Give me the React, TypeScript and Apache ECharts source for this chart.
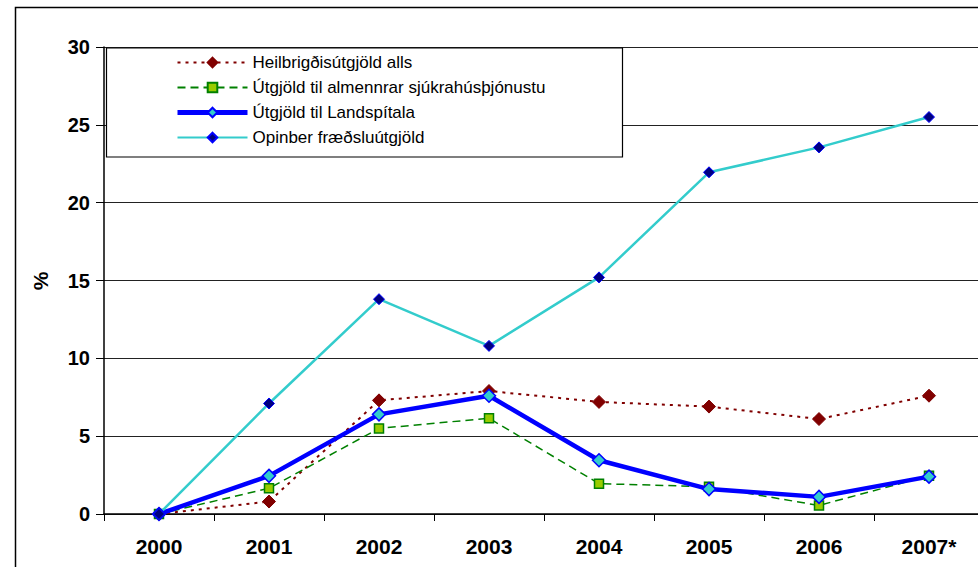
import React, { useEffect, useRef } from "react";
import * as echarts from "echarts";

const categories = ["2000", "2001", "2002", "2003", "2004", "2005", "2006", "2007*"];
const heilbrigdis = [0, 0.8, 7.3, 7.9, 7.2, 6.9, 6.1, 7.6];
const sjukrahus = [0, 1.65, 5.5, 6.15, 1.95, 1.75, 0.55, 2.45];
const landspitali = [0, 2.45, 6.4, 7.6, 3.45, 1.6, 1.1, 2.4];
const fraedslu = [0, 7.1, 13.8, 10.8, 15.2, 21.95, 23.55, 25.5];
const seriesNames = [
  "Heilbrigðisútgjöld alls",
  "Útgjöld til almennrar sjúkrahúsþjónustu",
  "Útgjöld til Landspítala",
  "Opinber fræðsluútgjöld",
];

export default function App() {
  const ref = useRef<HTMLDivElement>(null);
  useEffect(() => {
    if (!ref.current) return;
    const chart = echarts.init(ref.current, null, { renderer: "svg" });
    const font = "Arial, 'Liberation Sans', sans-serif";
    chart.setOption({
      animation: false,
      backgroundColor: "#ffffff",
      textStyle: { fontFamily: font },
      grid: { left: 104, top: 47, width: 880, height: 467 },
      legend: {
        orient: "vertical",
        left: 106,
        top: 48,
        padding: [6, 10, 6, 69],
        itemWidth: 70,
        itemHeight: 12,
        itemGap: 8,
        z: 10,
        data: [
          { name: seriesNames[0] },
          { name: seriesNames[1] },
          { name: seriesNames[2], lineStyle: { width: 5 } },
          { name: seriesNames[3] },
        ],
        textStyle: { fontSize: 17, color: "#000", fontFamily: font, lineHeight: 17 },
      },
      graphic: [
        {
          type: "rect",
          z: 5,
          shape: { x: 15.5, y: 7.5, width: 1000, height: 600 },
          style: { fill: "none", stroke: "#000", lineWidth: 1.5 },
        },
        {
          type: "rect",
          z: 5,
          shape: { x: 106.5, y: 48, width: 516, height: 109 },
          style: { fill: "#fff", stroke: "#000", lineWidth: 1.2 },
        },
        {
          type: "text",
          z: 5,
          x: 40,
          y: 281,
          rotation: Math.PI / 2,
          style: {
            text: "%",
            font: "bold 21px Arial, 'Liberation Sans', sans-serif",
            fill: "#000",
            align: "center",
            verticalAlign: "middle",
          },
        },
      ],
      xAxis: {
        type: "category",
        data: categories,
        boundaryGap: true,
        axisLine: { show: true, lineStyle: { color: "#000", width: 1.5 } },
        axisTick: { show: true, length: 7, lineStyle: { color: "#000" } },
        axisLabel: { margin: 22, fontSize: 21, fontWeight: "bold", color: "#000", fontFamily: font },
        splitLine: { show: false },
      },
      yAxis: {
        type: "value",
        min: 0,
        max: 30,
        interval: 5,
        axisLine: { show: true, lineStyle: { color: "#000", width: 1.5 } },
        axisTick: { show: true, length: 8, lineStyle: { color: "#000" } },
        axisLabel: { margin: 14, fontSize: 20, fontWeight: "bold", color: "#000", fontFamily: font },
        splitLine: { show: true, lineStyle: { color: "#222", width: 1 } },
      },
      series: [
        {
          name: seriesNames[0],
          type: "line",
          data: heilbrigdis,
          symbol: "diamond",
          symbolSize: 13,
          z: 2,
          lineStyle: { color: "#800000", width: 2, type: [3, 5] },
          itemStyle: { color: "#800000", borderColor: "#800000", borderWidth: 1 },
        },
        {
          name: seriesNames[1],
          type: "line",
          data: sjukrahus,
          symbol: "rect",
          symbolSize: 9,
          z: 3,
          lineStyle: { color: "#008000", width: 1.5, type: [8, 5] },
          itemStyle: { color: "#99CC00", borderColor: "#008000", borderWidth: 1.5 },
        },
        {
          name: seriesNames[2],
          type: "line",
          data: landspitali,
          symbol: "diamond",
          symbolSize: 13,
          z: 4,
          lineStyle: { color: "#0000FF", width: 4.5 },
          itemStyle: { color: "#33CCCC", borderColor: "#0000FF", borderWidth: 1.5 },
        },
        {
          name: seriesNames[3],
          type: "line",
          data: fraedslu,
          symbol: "diamond",
          symbolSize: 11,
          z: 4,
          lineStyle: { color: "#33CCCC", width: 2.5 },
          itemStyle: { color: "#000080", borderColor: "#0000FF", borderWidth: 1 },
        },
      ],
    });
    return () => chart.dispose();
  }, []);
  return (
    <div
      style={{ position: "fixed", left: 0, top: 0, width: 978, height: 567, overflow: "hidden", background: "#fff" }}
    >
      <div ref={ref} style={{ width: 1000, height: 567, background: "#fff" }} />
    </div>
  );
}
